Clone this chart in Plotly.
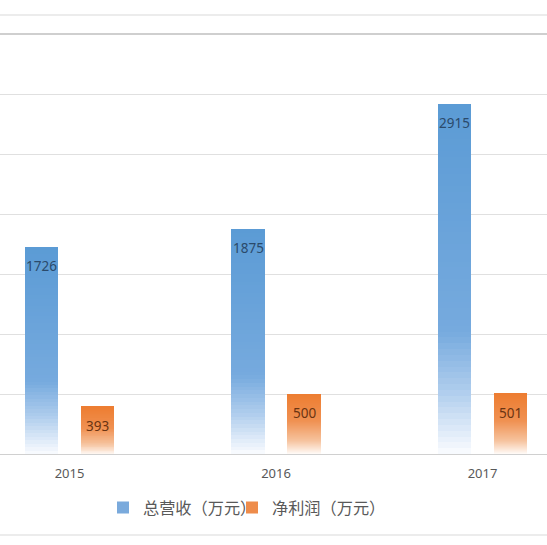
import plotly.graph_objects as go

# ---- data ----
years = ["2015", "2016", "2017"]
revenue = [1726, 1875, 2915]      # 总营收（万元）
profit = [393, 500, 501]          # 净利润（万元）
series_names = ["总营收（万元）", "净利润（万元）"]

# ---- styling ----
x_pos = list(range(len(years)))
bar_w = 0.16
centre_shift = 0.1356
N = 60

blue_stops = [(0.0, (91, 155, 213)), (0.65, (118, 170, 222)), (0.82, (175, 205, 237)), (1.0, (250, 252, 255))]
orange_stops = [(0.0, (237, 125, 49)), (0.45, (240, 145, 82)), (0.78, (246, 195, 158)), (1.0, (255, 251, 248))]


def interp(stops, t):
    for (t0, c0), (t1, c1) in zip(stops[:-1], stops[1:]):
        if t0 <= t <= t1:
            f = (t - t0) / (t1 - t0) if t1 > t0 else 0
            c = [round(a + (b - a) * f) for a, b in zip(c0, c1)]
            return f"rgb({c[0]},{c[1]},{c[2]})"
    c = stops[-1][1]
    return f"rgb({c[0]},{c[1]},{c[2]})"


fig = go.Figure()


def add_series(values, name, stops, offset, legend_color, legend_ref):
    # gradient: stack N slices of each bar, from bottom (pale) to top (solid);
    # each slice overlaps into the next one to avoid seams
    for k in range(N):
        t_mid = 1 - (k + 0.5) / N
        bases = [v * k / N for v in values]
        heights = [min(v * (k + 1.8) / N, v) - v * k / N for v in values]
        fig.add_trace(go.Bar(
            x=x_pos,
            y=heights,
            base=bases,
            width=bar_w,
            offset=offset,
            marker=dict(color=interp(stops, t_mid), line=dict(width=0)),
            showlegend=False,
            hoverinfo="skip",
            legendgroup=name,
        ))
    # legend entry
    fig.add_trace(go.Bar(
        x=[None], y=[None], name=name, legendgroup=name, legend=legend_ref,
        marker=dict(color=legend_color, line=dict(width=0)),
        showlegend=True,
    ))


add_series(revenue, series_names[0], blue_stops, -centre_shift - bar_w / 2, "rgb(122,170,220)", "legend")
add_series(profit, series_names[1], orange_stops, centre_shift - bar_w / 2, "rgb(238,140,75)", "legend2")

annotations = []
for i, v in enumerate(revenue):
    annotations.append(dict(x=x_pos[i] - centre_shift, y=v, xref="x", yref="y", text=str(v),
                            showarrow=False, yanchor="middle", yshift=-19,
                            font=dict(family="Noto Sans", size=13.5, color="#2b4a6b")))
for i, v in enumerate(profit):
    annotations.append(dict(x=x_pos[i] + centre_shift, y=v, xref="x", yref="y", text=str(v),
                            showarrow=False, yanchor="middle", yshift=-19,
                            font=dict(family="Noto Sans", size=13.5, color="#6a3412")))

W = 547
plot_top = 34
plot_bottom = 454
H = 545
ph = plot_bottom - plot_top


def py(p):
    return (plot_bottom - p) / ph


shapes = [
    dict(type="line", xref="paper", yref="paper", x0=0, x1=1, y0=py(15), y1=py(15),
         line=dict(color="#d9d9d9", width=1)),
    dict(type="line", xref="paper", yref="paper", x0=0, x1=1, y0=py(34), y1=py(34),
         line=dict(color="#bfbfbf", width=1.5)),
    dict(type="line", xref="paper", yref="paper", x0=0, x1=1, y0=py(535), y1=py(535),
         line=dict(color="#d9d9d9", width=1)),
]

px_per_cat = 206.5
x0 = -69.5 / px_per_cat
x1 = x0 + W / px_per_cat

legend_style = dict(orientation="h", yanchor="middle", y=py(508), xanchor="left",
                    font=dict(family="Noto Sans CJK SC", size=16.2, color="#595959"),
                    itemwidth=30, bgcolor="rgba(0,0,0,0)")

fig.update_layout(
    width=W, height=H,
    margin=dict(l=0, r=0, t=plot_top, b=H - plot_bottom, pad=0),
    paper_bgcolor="white", plot_bgcolor="white",
    barmode="overlay",
    bargap=0,
    showlegend=True,
    legend=dict(x=(143 - 40) / W, **legend_style),
    legend2=dict(x=(272 - 40) / W, **legend_style),
    xaxis=dict(range=[x0, x1], tickmode="array", tickvals=x_pos, ticktext=years,
               showgrid=False, zeroline=False, showline=False, ticks="",
               ticklabelstandoff=10,
               tickfont=dict(family="Noto Sans", size=13, color="#595959"), fixedrange=True),
    yaxis=dict(range=[0, 3500], dtick=500, showgrid=True, gridcolor="#e0e0e0", gridwidth=1,
               zeroline=True, zerolinecolor="#d0d0d0", zerolinewidth=1.2,
               showticklabels=False, ticks="", showline=False, fixedrange=True),
    annotations=annotations,
    shapes=shapes,
)

fig.write_html("out.html", config={"displayModeBar": False},
               post_script="document.body.style.margin='0';document.body.style.padding='0';")
